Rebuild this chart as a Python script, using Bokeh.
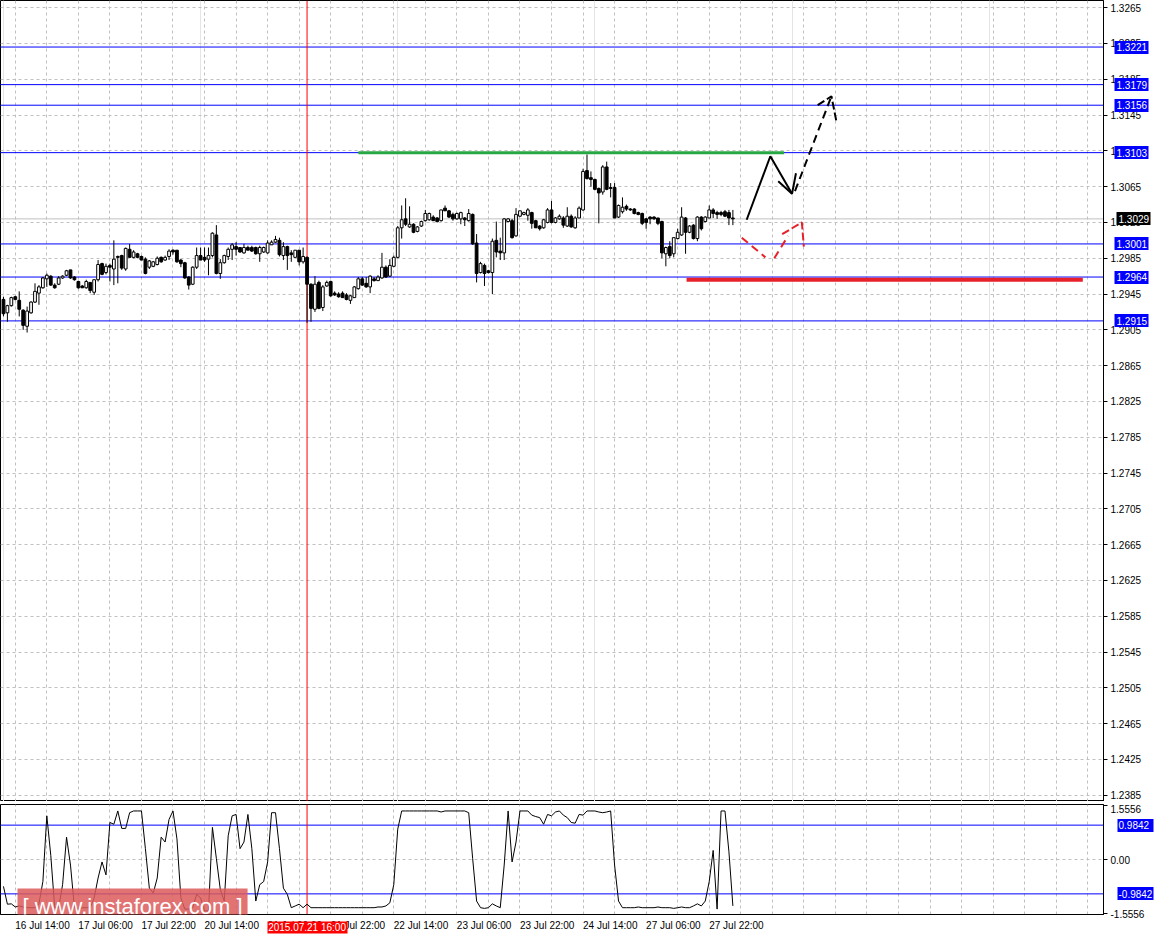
from bokeh.plotting import figure
from bokeh.models import (Range1d, FixedTicker, Grid, Span, Label, ColumnDataSource,
                          NumeralTickFormatter, LinearAxis)
from bokeh.layouts import column
from bokeh.embed import file_html
from bokeh.resources import INLINE

# ---------------- data ----------------
opens = [1.2939,1.2924,1.2932,1.2942,1.2938,1.2927,1.2909,1.2924,1.2936,1.2946,
         1.2952,1.2962,1.2965,1.2955,1.2956,1.2963,1.2966,1.2972,1.2964,1.2959,
         1.2954,1.2952,1.2958,1.2947,1.2961,1.2979,1.2969,1.2977,1.2973,1.2987,
         1.2988,1.2973,1.2995,1.2986,1.2990,1.2987,1.2984,1.2975,1.2976,1.2978,
         1.2986,1.2983,1.2987,1.2994,1.2994,1.2983,1.2980,1.2964,1.2956,1.2975,
         1.2988,1.2986,1.2984,1.2988,1.3011,1.2968,1.2980,1.2987,1.2995,1.2998,
         1.2997,1.2991,1.2997,1.2997,1.2997,1.2990,1.2992,1.2991,1.3000,1.3003,
         1.3005,1.2988,1.2998,1.2991,1.2986,1.2994,1.2981,1.2986,1.2956,1.2928,
         1.2958,1.2930,1.2954,1.2959,1.2946,1.2945,1.2946,1.2944,1.2938,1.2941,
         1.2951,1.2962,1.2957,1.2953,1.2962,1.2960,1.2963,1.2975,1.2965,1.2976,
         1.2986,1.3019,1.3029,1.3020,1.3023,1.3015,1.3021,1.3027,1.3028,1.3031,
         1.3030,1.3027,1.3041,1.3038,1.3034,1.3029,1.3029,1.3030,1.3027,1.3034,
         1.3002,1.2969,1.2977,1.2971,1.2969,1.3005,1.2993,1.2991,1.3026,1.3027,
         1.3010,1.3032,1.3034,1.3033,1.3036,1.3027,1.3021,1.3019,1.3025,1.3039,
         1.3025,1.3029,1.3030,1.3021,1.3032,1.3019,1.3030,1.3039,1.3083,1.3075,
         1.3073,1.3063,1.3059,1.3087,1.3064,1.3064,1.3031,1.3037,1.3043,1.3040,
         1.3040,1.3036,1.3035,1.3029,1.3031,1.3031,1.3030,1.3026,1.2990,1.2998,
         1.2990,1.3007,1.3011,1.3030,1.3014,1.3022,1.3007,1.3031,1.3026,1.3030,
         1.3039,1.3036,1.3036,1.3037,1.3036,1.3030]
highs = [1.2942,1.2933,1.2942,1.2943,1.2948,1.2928,1.2931,1.2937,1.2957,1.2955,
         1.2964,1.2968,1.2966,1.2957,1.2965,1.2966,1.2972,1.2972,1.2965,1.2960,
         1.2955,1.2961,1.2958,1.2961,1.2983,1.2980,1.2979,1.2979,1.3005,1.2988,
         1.2989,1.2997,1.3001,1.2994,1.2991,1.2988,1.2986,1.2983,1.2982,1.2987,
         1.2987,1.2988,1.2995,1.2995,1.2994,1.2984,1.2981,1.2965,1.2976,1.2997,
         1.2997,1.2997,1.2997,1.3014,1.3022,1.2984,1.2989,1.2997,1.3002,1.3003,
         1.2997,1.3001,1.2999,1.2999,1.2998,1.2999,1.2998,1.3005,1.3005,1.3010,
         1.3008,1.3003,1.2999,1.2994,1.2994,1.2994,1.2997,1.2987,1.2957,1.2965,
         1.2960,1.2955,1.2960,1.2960,1.2948,1.2947,1.2948,1.2946,1.2944,1.2954,
         1.2964,1.2964,1.2964,1.2966,1.2964,1.2966,1.2991,1.2977,1.2984,1.2988,
         1.3021,1.3044,1.3052,1.3043,1.3024,1.3021,1.3027,1.3039,1.3036,1.3033,
         1.3031,1.3039,1.3044,1.3039,1.3036,1.3036,1.3037,1.3031,1.3040,1.3035,
         1.3012,1.2981,1.2979,1.2972,1.3007,1.3026,1.3008,1.3030,1.3030,1.3029,
         1.3041,1.3038,1.3037,1.3041,1.3037,1.3028,1.3022,1.3029,1.3041,1.3049,
         1.3031,1.3034,1.3032,1.3042,1.3034,1.3032,1.3043,1.3085,1.3101,1.3082,
         1.3074,1.3064,1.3089,1.3093,1.3069,1.3069,1.3045,1.3053,1.3045,1.3041,
         1.3041,1.3037,1.3036,1.3030,1.3032,1.3032,1.3030,1.3027,1.2998,1.3004,
         1.3008,1.3018,1.3042,1.3031,1.3022,1.3023,1.3032,1.3032,1.3032,1.3044,
         1.3041,1.3038,1.3038,1.3039,1.3039,1.3039]
lows = [1.2920,1.2914,1.2931,1.2938,1.2920,1.2905,1.2902,1.2923,1.2935,1.2933,
        1.2951,1.2953,1.2954,1.2951,1.2955,1.2962,1.2965,1.2962,1.2960,1.2951,
        1.2952,1.2951,1.2946,1.2944,1.2959,1.2966,1.2967,1.2959,1.2955,1.2957,
        1.2972,1.2971,1.2986,1.2985,1.2985,1.2983,1.2967,1.2973,1.2975,1.2977,
        1.2980,1.2982,1.2983,1.2989,1.2980,1.2975,1.2962,1.2950,1.2955,1.2973,
        1.2983,1.2981,1.2966,1.2986,1.2967,1.2962,1.2979,1.2983,1.2983,1.2988,
        1.2991,1.2990,1.2994,1.2992,1.2989,1.2981,1.2991,1.2990,1.3000,1.3002,
        1.2987,1.2983,1.2972,1.2981,1.2986,1.2977,1.2979,1.2913,1.2914,1.2925,
        1.2928,1.2926,1.2953,1.2942,1.2943,1.2941,1.2941,1.2938,1.2934,1.2941,
        1.2950,1.2954,1.2952,1.2946,1.2959,1.2960,1.2962,1.2963,1.2964,1.2975,
        1.2985,1.3007,1.3021,1.3019,1.3013,1.3014,1.3020,1.3026,1.3027,1.3027,
        1.3025,1.3026,1.3038,1.3030,1.3027,1.3028,1.3023,1.3021,1.3026,1.3000,
        1.2958,1.2968,1.2954,1.2968,1.2945,1.2986,1.2983,1.2983,1.3025,1.3007,
        1.3009,1.3031,1.3033,1.3027,1.3018,1.3019,1.3016,1.3018,1.3024,1.3024,
        1.3024,1.3028,1.3019,1.3020,1.3019,1.3018,1.3030,1.3038,1.3073,1.3065,
        1.3061,1.3024,1.3056,1.3061,1.3053,1.3030,1.3030,1.3035,1.3038,1.3038,
        1.3034,1.3033,1.3022,1.3018,1.3023,1.3028,1.3022,1.2985,1.2976,1.2985,
        1.2986,1.3006,1.3010,1.2990,1.3013,1.3006,1.3004,1.3016,1.3025,1.3030,
        1.3030,1.3029,1.3032,1.3031,1.3022,1.3022]
closes = [1.2923,1.2932,1.2941,1.2939,1.2928,1.2910,1.2926,1.2936,1.2948,1.2953,
          1.2963,1.2966,1.2955,1.2952,1.2963,1.2965,1.2971,1.2963,1.2961,1.2952,
          1.2952,1.2959,1.2949,1.2961,1.2978,1.2967,1.2976,1.2975,1.2984,1.2986,
          1.2974,1.2996,1.2986,1.2992,1.2986,1.2983,1.2968,1.2982,1.2981,1.2985,
          1.2981,1.2986,1.2993,1.2992,1.2981,1.2979,1.2963,1.2955,1.2975,1.2988,
          1.2983,1.2983,1.2988,1.3013,1.2968,1.2980,1.2988,1.2995,1.3000,1.2995,
          1.2992,1.2997,1.2994,1.2993,1.2990,1.2997,1.2997,1.3002,1.3003,1.3006,
          1.2989,1.2998,1.2988,1.2989,1.2994,1.2981,1.2987,1.2956,1.2929,1.2956,
          1.2929,1.2953,1.2958,1.2943,1.2944,1.2942,1.2941,1.2939,1.2943,1.2953,
          1.2962,1.2955,1.2953,1.2965,1.2960,1.2964,1.2975,1.2964,1.2977,1.2986,
          1.3019,1.3028,1.3023,1.3023,1.3014,1.3020,1.3026,1.3035,1.3035,1.3027,
          1.3026,1.3039,1.3038,1.3031,1.3029,1.3035,1.3036,1.3028,1.3035,1.3001,
          1.2968,1.2979,1.2968,1.2969,1.3004,1.2992,1.2991,1.3029,1.3029,1.3008,
          1.3034,1.3038,1.3036,1.3039,1.3024,1.3019,1.3018,1.3028,1.3039,1.3025,
          1.3030,1.3032,1.3022,1.3032,1.3020,1.3030,1.3041,1.3082,1.3074,1.3073,
          1.3062,1.3058,1.3087,1.3062,1.3063,1.3030,1.3044,1.3042,1.3040,1.3039,
          1.3035,1.3034,1.3024,1.3025,1.3029,1.3029,1.3024,1.2991,1.2997,1.2988,
          1.3008,1.3014,1.3031,1.3014,1.3021,1.3007,1.3031,1.3018,1.3031,1.3039,
          1.3035,1.3034,1.3034,1.3032,1.3030,1.3029]
indicator = [-0.77,-1.28,-1.27,-1.36,-1.33,-1.36,-1.38,-1.38,-1.38,-1.27,
             -0.63,1.25,0.12,-1.38,-1.38,-0.72,0.64,-0.16,-1.38,-1.42,
             -1.38,-1.38,-1.38,-1.10,-0.53,-0.07,-0.44,1.06,1.01,1.39,
             0.89,0.89,1.34,1.39,1.39,1.39,0.31,-0.82,-0.96,-0.53,
             0.64,0.50,1.15,1.39,0.59,-1.10,-1.42,-1.42,-1.38,-1.00,
             -1.10,-1.47,-1.47,0.92,0.03,-0.86,-1.19,0.68,1.25,1.29,
             0.31,0.50,1.29,0.31,-1.19,-0.72,-0.63,-0.07,1.34,1.34,
             0.31,-0.82,-1.00,-1.38,-1.33,-1.28,-1.38,-1.28,-1.38,-1.38,
             -1.38,-1.38,-1.38,-1.38,-1.38,-1.38,-1.38,-1.38,-1.38,-1.38,
             -1.38,-1.38,-1.38,-1.38,-1.38,-1.36,-1.36,-1.33,-1.24,-0.72,
             0.87,1.39,1.39,1.39,1.39,1.39,1.39,1.39,1.39,1.39,
             1.39,1.36,1.39,1.39,1.39,1.39,1.39,1.39,1.34,0.03,
             -1.19,-1.38,-1.40,-1.38,-1.27,-1.33,-1.38,-0.16,1.39,-0.07,
             0.50,1.39,1.39,1.39,1.27,1.23,1.20,1.01,1.29,1.25,
             1.36,1.39,1.27,1.20,1.06,1.04,1.29,1.27,1.39,1.39,
             1.39,1.36,1.34,1.36,1.39,-0.16,-1.19,-1.38,-1.38,-1.38,
             -1.38,-1.36,-1.38,-1.38,-1.38,-1.38,-1.36,-1.38,-1.38,-1.38,
             -1.40,-1.38,-1.36,-1.38,-1.38,-1.33,-1.27,-1.33,-1.19,-0.63,
             0.26,-1.42,1.39,1.39,0.22,-1.33]

time_tick_bars = [3, 19, 35, 51, 67, 83, 99, 115, 131, 147, 163, 179]
time_tick_labels = ["16 Jul 14:00", "17 Jul 06:00", "17 Jul 22:00", "20 Jul 14:00",
                    "21 Jul 06:00", "21 Jul 22:00", "22 Jul 14:00", "23 Jul 06:00",
                    "23 Jul 22:00", "24 Jul 14:00", "27 Jul 06:00", "27 Jul 22:00"]
price_ticks = [1.2385, 1.2425, 1.2465, 1.2505, 1.2545, 1.2585, 1.2625, 1.2665, 1.2705,
               1.2745, 1.2785, 1.2825, 1.2865, 1.2905, 1.2945, 1.2985, 1.3025, 1.3065,
               1.3105, 1.3145, 1.3185, 1.3225, 1.3265]
levels = [1.3221, 1.3179, 1.3156, 1.3103, 1.3001, 1.2964, 1.2915]
current_price = 1.3029
crosshair_bar = 77
crosshair_label = "2015.07.21 16:00"
ind_levels = [0.9842, -0.9842]
ind_max, ind_min = 1.5556, -1.5556

resistance_bars = [90, 198]
resistance_price = 1.3103
support_bars = [173.25, 273.75]
support_price = 1.2961

solid_arrow_bars = [188.5, 194.5, 200.0]
solid_arrow_prices = [1.3028, 1.3099, 1.3057]
solid_head_bars = [196.5, 200.0, 201.0]
solid_head_prices = [1.3071, 1.3057, 1.3080]
dash_arrow_bars = [200.75, 210.0]
dash_arrow_prices = [1.3060, 1.3166]
dash_head_bars = [206.5, 210.0, 211.25]
dash_head_prices = [1.3156, 1.3166, 1.3138]
red_dash_bars = [187.25, 193.25]
red_dash_prices = [1.3008, 1.2986]
red_dash2_bars = [195.5, 199.0]
red_dash2_prices = [1.2985, 1.3010]
red_head_bars = [197.5, 202.5, 203.0]
red_head_prices = [1.3012, 1.3025, 1.2998]

# ---------------- figure geometry ----------------
FW = 1103
FONT = "Liberation Sans"
GRID = "#c0c0c0"
LABEL_SHIFT = 6.9      # time labels start at their bar (MetaTrader style)
bars = list(range(len(closes)))
grid_x = list(range(3, 280, 8))

src = ColumnDataSource(dict(
    x=bars, o=opens, h=highs, l=lows, c=closes,
    top=[max(a, b) for a, b in zip(opens, closes)],
    bot=[min(a, b) for a, b in zip(opens, closes)],
    fill=["white" if c >= o else "black" for o, c in zip(opens, closes)],
))


def style_axis(a, tick_out=4, standoff=3):
    a.major_label_text_font = FONT
    a.major_label_text_font_size = "10px"
    a.major_label_text_color = "black"
    a.major_tick_in = 0
    a.major_tick_out = tick_out
    a.minor_tick_in = 0
    a.minor_tick_out = 0
    a.major_label_standoff = standoff
    a.axis_line_color = "black"


def box_axis(ticks, color, labels, tick_in, tick_out, standoff, height=13):
    """Right-hand axis whose thick ticks form the coloured value boxes."""
    a = LinearAxis(ticker=FixedTicker(ticks=ticks))
    a.major_label_overrides = labels
    a.major_label_text_font = FONT
    a.major_label_text_font_size = "10px"
    a.major_label_text_color = "white"
    a.major_tick_in = tick_in
    a.major_tick_out = tick_out
    a.major_tick_line_width = height
    a.major_tick_line_color = color
    a.major_tick_line_cap = "butt"
    a.minor_tick_in = 0
    a.minor_tick_out = 0
    a.major_label_standoff = standoff
    a.axis_line_color = None
    return a


p1 = figure(frame_width=FW, frame_height=801, x_range=Range1d(-0.75, 279),
            y_range=Range1d(1.2378, 1.3273), x_axis_location=None, y_axis_location="right",
            toolbar_location=None, output_backend="svg",
            min_border_left=0, min_border_right=43, min_border_top=0, min_border_bottom=0)
p1.outline_line_color = "black"
p1.ygrid.ticker = FixedTicker(ticks=price_ticks)
p1.ygrid.grid_line_color = GRID
p1.ygrid.grid_line_dash = "3 3"
p1.add_layout(Grid(dimension=0, ticker=FixedTicker(ticks=grid_x),
                   grid_line_color=GRID, grid_line_dash="3 3"))
ax = p1.yaxis[0]
ax.ticker = FixedTicker(ticks=price_ticks)
ax.formatter = NumeralTickFormatter(format="0.0000")
style_axis(ax)

# level lines (under the candles)
p1.add_layout(Span(location=current_price, dimension="width", line_color="#c0c0c0",
                   line_width=1, level="underlay"))
for lv in levels:
    p1.add_layout(Span(location=lv, dimension="width", line_color="blue", line_width=1,
                       level="underlay"))
p1.add_layout(Span(location=crosshair_bar, dimension="height", line_color="red",
                   line_width=1, level="underlay"))

# candles
p1.segment(x0="x", y0="l", x1="x", y1="h", source=src, line_color="black", line_width=1)
p1.vbar(x="x", top="top", bottom="bot", width=0.7, source=src,
        fill_color="fill", line_color="black", line_width=1)

# analysis drawings
p1.line(resistance_bars, [resistance_price] * 2, line_color="#28a745", line_width=3)
p1.line(support_bars, [support_price] * 2, line_color="#e8202a", line_width=4)
p1.line(solid_arrow_bars, solid_arrow_prices, line_color="black", line_width=2)
p1.line(solid_head_bars, solid_head_prices, line_color="black", line_width=2)
p1.line(dash_arrow_bars, dash_arrow_prices, line_color="black", line_width=2, line_dash="8 5")
p1.line(dash_head_bars, dash_head_prices, line_color="black", line_width=2, line_dash="8 3")
p1.line(red_dash_bars, red_dash_prices, line_color="#e8202a", line_width=2, line_dash="8 5")
p1.line(red_dash2_bars, red_dash2_prices, line_color="#e8202a", line_width=2, line_dash="8 5")
p1.line(red_head_bars, red_head_prices, line_color="#e8202a", line_width=2, line_dash="8 3")

# value boxes on the price scale
p1.add_layout(box_axis(levels, "blue", {lv: f"{lv:.4f}" for lv in levels},
                       tick_in=30, tick_out=4, standoff=-32), "right")
p1.add_layout(box_axis([current_price], "black", {current_price: f"{current_price:.4f}"},
                       tick_in=34, tick_out=0, standoff=-32), "right")

# ---------------- indicator panel ----------------
p2 = figure(frame_width=FW, frame_height=110, x_range=p1.x_range,
            y_range=Range1d(-1.575, 1.575), y_axis_location="right", x_axis_location="below",
            toolbar_location=None, output_backend="svg",
            min_border_left=0, min_border_right=43, min_border_top=0, min_border_bottom=17)
p2.outline_line_color = "black"
p2.xgrid.ticker = FixedTicker(ticks=grid_x)
p2.xgrid.grid_line_color = GRID
p2.xgrid.grid_line_dash = "3 3"
p2.ygrid.ticker = FixedTicker(ticks=[0])
p2.ygrid.grid_line_color = GRID
p2.ygrid.grid_line_dash = "3 3"

xa = p2.xaxis[0]
label_pos = [b + LABEL_SHIFT for b in time_tick_bars]
xa.ticker = FixedTicker(ticks=label_pos)
xa.major_label_overrides = {pos: t for pos, t in zip(label_pos, time_tick_labels)}
style_axis(xa, tick_out=0, standoff=5)

ya = p2.yaxis[0]
ya.ticker = FixedTicker(ticks=[ind_min, 0, ind_max])
ya.major_label_overrides = {ind_min: f"{ind_min:.4f}", 0: "0.00", ind_max: f"{ind_max:.4f}"}
style_axis(ya)

for lv in ind_levels:
    p2.add_layout(Span(location=lv, dimension="width", line_color="blue", line_width=1,
                       level="underlay"))
p2.add_layout(Span(location=crosshair_bar, dimension="height", line_color="red",
                   line_width=1, level="underlay"))
p2.line(bars, indicator, line_color="black", line_width=1)

p2.add_layout(box_axis(ind_levels, "blue", {lv: f"{lv:.4f}" for lv in ind_levels},
                       tick_in=30, tick_out=6, standoff=-35), "right")

# crosshair time box under the time scale
tx = LinearAxis(ticker=FixedTicker(ticks=[crosshair_bar]))
tx.major_label_overrides = {crosshair_bar: crosshair_label}
tx.major_label_text_font = FONT
tx.major_label_text_font_size = "10px"
tx.major_label_text_color = "white"
tx.major_tick_in = 12
tx.major_tick_out = 0
tx.major_tick_line_width = 80
tx.major_tick_line_color = "red"
tx.major_tick_line_cap = "butt"
tx.minor_tick_in = 0
tx.minor_tick_out = 0
tx.major_label_standoff = -12
tx.axis_line_color = None
p2.add_layout(tx, "below")

p2.add_layout(Label(x=17, y=-9, x_units="screen", y_units="screen",
                    text="[ www.instaforex.com ]", text_color="white",
                    background_fill_color="#dc5a5a", background_fill_alpha=0.85,
                    text_font=FONT, text_font_size="22px", text_baseline="bottom",
                    text_align="left", padding=5))

layout = column(p1, p2, spacing=3)
open("out.html", "w").write(file_html(layout, INLINE))
